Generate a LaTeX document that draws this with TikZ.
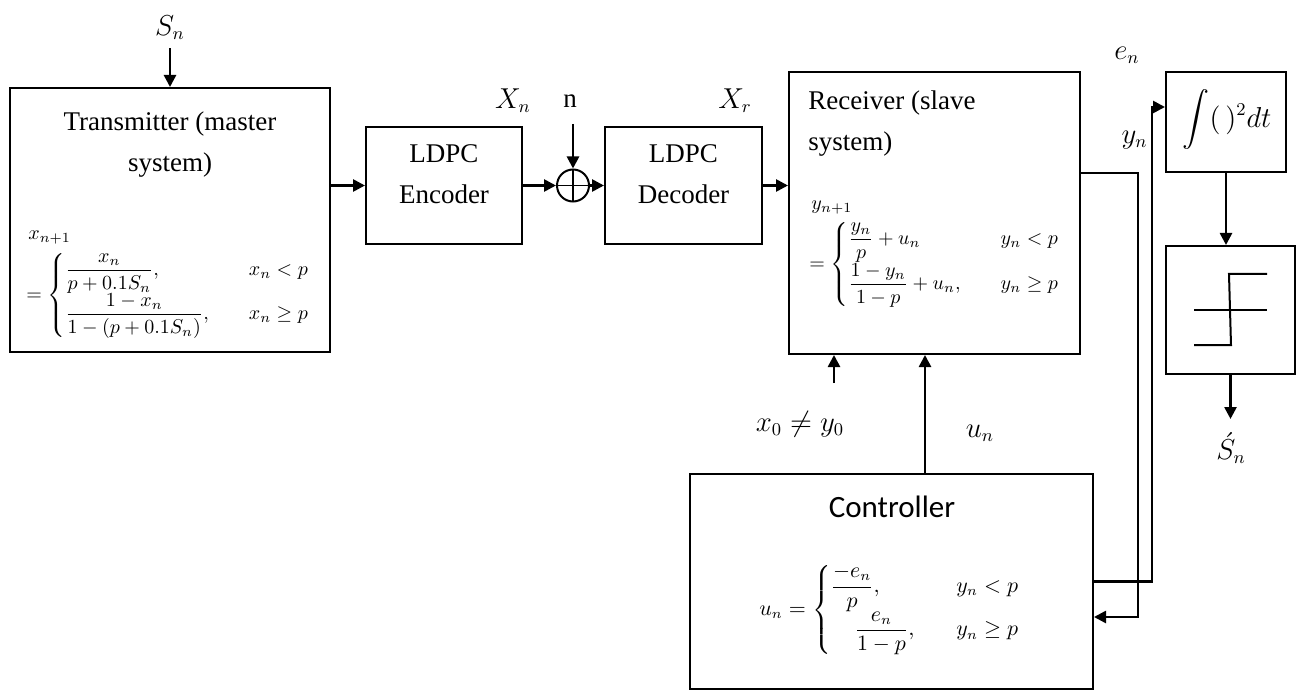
\documentclass[tikz,border=0pt]{standalone}
\usepackage{amsmath}
\usepackage{amssymb}
\usepackage{fontspec}
\setmainfont{Liberation Serif}
\newfontfamily\ctlfont{Carlito}
\usetikzlibrary{arrows.meta,positioning,calc}

\begin{document}
\begin{tikzpicture}[x=0.5pt, y=-0.5pt,
  blk/.style={draw, line width=1pt, inner sep=0pt},
  arr/.style={line width=1.3pt, -{Triangle[length=6pt,width=6pt]}},
  wire/.style={line width=1pt},
  txt/.style={inner sep=0pt, align=center, font=\fontsize{13.5}{20.5}\selectfont},
  fml/.style={inner sep=0pt, align=left, font=\fontsize{10}{12}\selectfont},
  lbl/.style={inner sep=0pt, font=\fontsize{13.5}{16}\selectfont}]
\useasboundingbox (0,0) rectangle (1303,690);
% Blocks
\node[blk, minimum width=160pt, minimum height=132pt] (tx) at (170,220) {};
\node[blk, minimum width=78pt, minimum height=58.5pt] (enc) at (444,185.5) {};
\node[blk, circle, minimum size=16pt,
  path picture={\draw[line width=0.9pt]
    (path picture bounding box.north) -- (path picture bounding box.south)
    (path picture bounding box.west) -- (path picture bounding box.east);}]
  (add) at (573,185.5) {};
\node[blk, minimum width=78.5pt, minimum height=58.5pt] (dec) at (683.5,185.5) {};
\node[blk, minimum width=145.5pt, minimum height=141pt] (rx) at (934.5,213) {};
\node[blk, minimum width=60pt, minimum height=50pt] (int) at (1226,122) {};
\node[blk, minimum width=64.5pt, minimum height=64pt] (step) at (1230.5,310) {};
\node[blk, minimum width=201.5pt, minimum height=107.5pt] (ctl) at (891.5,581.5) {};
% Block texts
\node[txt] (txt-tx) at (170,145) {Transmitter (master\\system)};
\node[fml, anchor=base west] (xnext) at (28,240) {$x_{n+1}$};
\node[fml, anchor=north west] (fml-tx) at (26,253)
  {$=\begin{cases}\dfrac{x_n}{p+0.1S_n}, & \quad x_n<p\\
     \dfrac{1-x_n}{1-(p+0.1S_n)}, & \quad x_n\ge p\end{cases}$};
\node[txt] (txt-enc) at (444,174) {LDPC\\Encoder};
\node[txt] (txt-dec) at (683.5,174) {LDPC\\Decoder};
\node[txt, align=left, anchor=west] (txt-rx) at (808,124) {Receiver (slave\\system)};
\node[fml, anchor=base west] (ynext) at (811,210) {$y_{n+1}$};
\node[fml, anchor=north west] (fml-rx) at (809,222)
  {$=\begin{cases}\dfrac{y_n}{p}+u_n & \quad y_n<p\\[5pt]
     \dfrac{1-y_n}{1-p}+u_n, & \quad y_n\ge p\end{cases}$};
\node[lbl] (txt-int) at (1227,120) {$\displaystyle\int(\,)^2dt$};
\node[inner sep=0pt, font=\ctlfont\fontsize{15.5}{18}\selectfont] (txt-ctl) at (892,507) {Controller};
\node[fml, font=\fontsize{10.5}{12}\selectfont] (fml-ctl) at (890,610)
  {$u_n=\begin{cases}\dfrac{-e_n}{p}, & \quad y_n<p\\[3pt]
     \hspace{12pt}\dfrac{e_n}{1-p}, & \quad y_n\ge p\end{cases}$};
% Hard limiter glyph
\draw[wire] (1194,310) -- (1267,310);
\draw[wire] (1194,345) -- (1231,345) -- (1229,274) -- (1267,274);
% Signal labels
\node[lbl] (sn) at (170,28) {$S_n$};
\node[lbl] (xn) at (513,101) {$X_n$};
\node[txt] (nlab) at (570,101) {n};
\node[lbl] (xr) at (735,101) {$X_r$};
\node[lbl] (en) at (1127,55) {$e_n$};
\node[lbl, anchor=east] (yn) at (1148,140) {$y_n$};
\node[lbl] (x0) at (800,424) {$x_0\neq y_0$};
\node[lbl] (un) at (980,433) {$u_n$};
\node[lbl] (snh) at (1231,448) {$\acute{S}_n$};
% Connections
\draw[arr] ([yshift=-4pt]sn.south) -- (tx);
\draw[arr] (tx.east |- enc) -- (enc);
\draw[arr] (enc) -- (add);
\draw[arr] ([yshift=-8pt]nlab.south -| add) -- (add);
\draw[arr] (add) -- (dec);
\draw[arr] (dec.east) -- (dec.east -| rx.west);
\coordinate (x0tail) at (834,383);
\draw[arr] (x0tail) -- (x0tail |- rx.south);
\coordinate (ufoot) at ([xshift=16.75pt]ctl.north);
\draw[arr] (ufoot) -- (ufoot |- rx.south);
\draw[arr] ([yshift=20pt]rx.east) -- ++(57,0) |- ([yshift=-17.75pt]ctl.east);
\draw[arr] (ctl.east) -- ++(58,0) |- ([yshift=7.5pt]int.west);
\draw[arr] (int.south) -- (int.south |- step.north);
\coordinate (shat) at ([yshift=-22pt]step.south);
\draw[arr] (step.south) -- (shat);
\end{tikzpicture}
\end{document}
